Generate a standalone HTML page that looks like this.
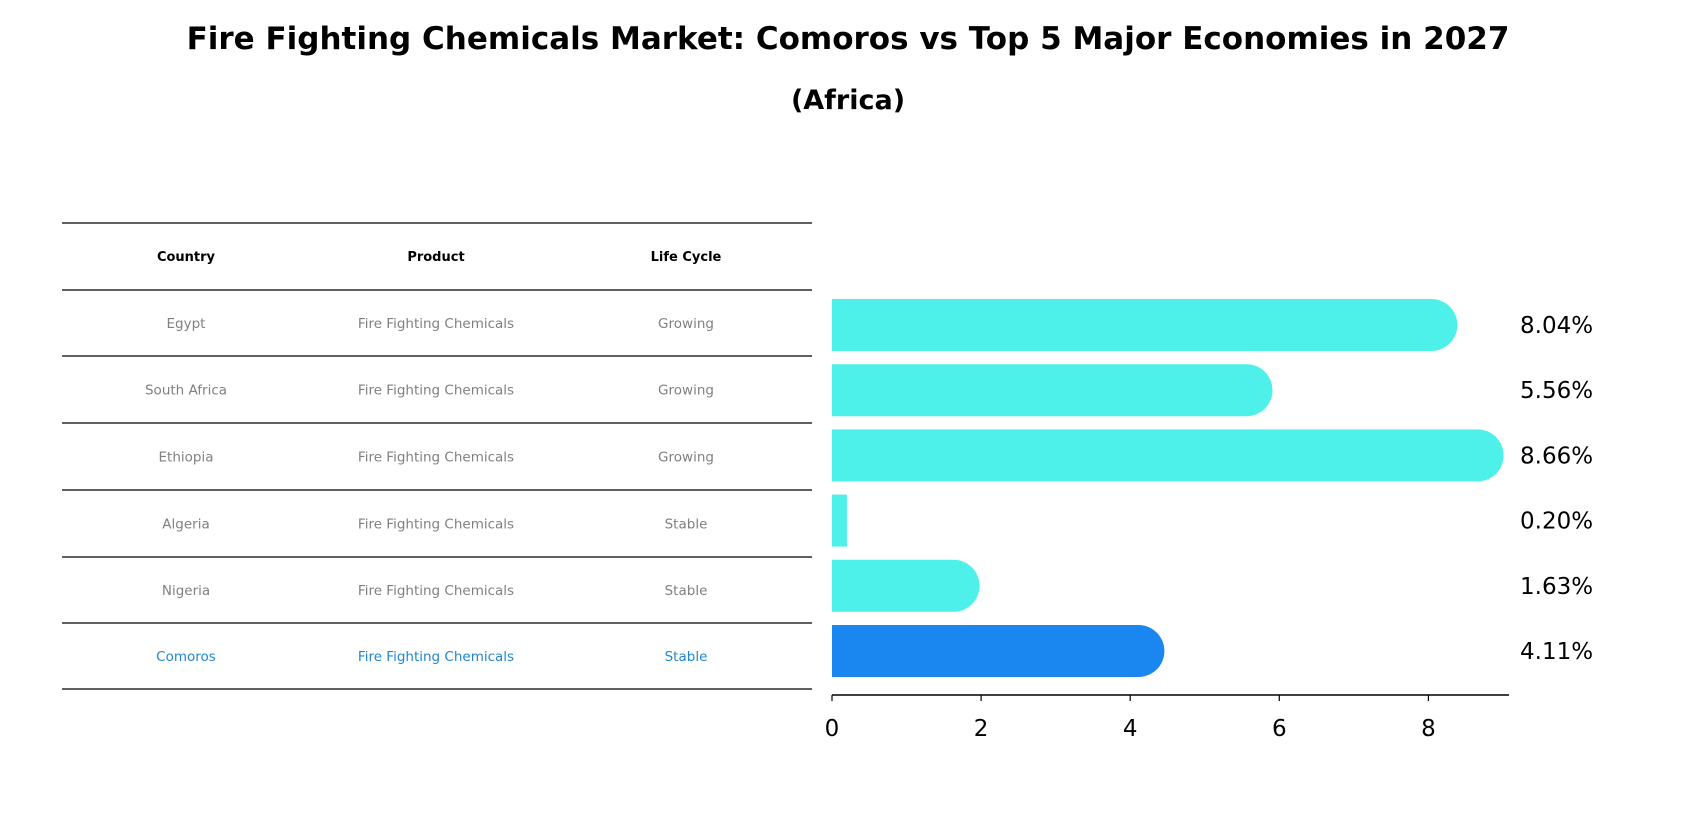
<!DOCTYPE html>
<html><head><meta charset="utf-8"><style>
body{margin:0;background:#fff;}
svg text{font-family:"DejaVu Sans","Liberation Sans",sans-serif;}
</style></head><body>
<svg width="1697" height="823" xmlns="http://www.w3.org/2000/svg">
<text x="848" y="49" text-anchor="middle" font-size="31" font-weight="bold">Fire Fighting Chemicals Market: Comoros vs Top 5 Major Economies in 2027</text>
<text x="848" y="109" text-anchor="middle" font-size="27" font-weight="bold">(Africa)</text>
<g id="table"></g>
<g id="bars"></g>
</svg>
<script>
const countries=["Egypt","South Africa","Ethiopia","Algeria","Nigeria","Comoros"];
const products=["Fire Fighting Chemicals","Fire Fighting Chemicals","Fire Fighting Chemicals","Fire Fighting Chemicals","Fire Fighting Chemicals","Fire Fighting Chemicals"];
const lifeCycles=["Growing","Growing","Growing","Stable","Stable","Stable"];
const values=[8.04,5.56,8.66,0.20,1.63,4.11];
const ticks=[0,2,4,6,8];
const NS="http://www.w3.org/2000/svg";
function mk(tag,attrs,parent,txt){const e=document.createElementNS(NS,tag);for(const k in attrs)e.setAttribute(k,attrs[k]);if(txt!==undefined)e.textContent=txt;parent.appendChild(e);return e;}
const tbl=document.getElementById('table');
const lineYs=[223,290,356,423,490,557,623,689];
lineYs.forEach(y=>{const l=mk('line',{x1:62,x2:812,y1:y,y2:y,stroke:'#000','stroke-width':1.2},tbl);

});
const colX=[186,436,686];
["Country","Product","Life Cycle"].forEach((h,i)=>{const t=mk('text',{x:colX[i],y:261,'text-anchor':'middle','font-size':13,'font-weight':'bold'},tbl,h);

});
countries.forEach((c,r)=>{const y=(lineYs[r+1]+lineYs[r+2])/2+5;const col=c==="Comoros"?"#1f87d0":"#808080";
[c,products[r],lifeCycles[r]].forEach((v,i)=>{const t=mk('text',{x:colX[i],y:y,'text-anchor':'middle','font-size':13.5,fill:col},tbl,v);

});});
const bars=document.getElementById('bars');
const x0=832,unit=74.55;
const xs=v=>x0+v*unit;
const y0=325,step=65.2,bh=52;
values.forEach((v,i)=>{const cy=y0+i*step;const col=countries[i]==="Comoros"?"#1a86f0":"#4ef0ea";
const w=xs(v)-x0;
const r=v>0.5?bh/2:0;
const p=mk('path',{d:`M${x0},${cy-bh/2} H${x0+w} `+(r?`A${r},${r} 0 0 1 ${x0+w},${cy+bh/2}`:`V${cy+bh/2}`)+` H${x0} Z`,fill:col},bars);


const t=mk('text',{x:1520,y:cy+8,'font-size':23},bars,v.toFixed(2)+'%');

});
const ax=mk('line',{x1:x0,x2:1509,y1:695,y2:695,stroke:'#000','stroke-width':1.5},bars);


ticks.forEach(t=>{const l=mk('line',{x1:xs(t),x2:xs(t),y1:695,y2:701,stroke:'#000','stroke-width':1.2},bars);


const tx=mk('text',{x:xs(t),y:736,'text-anchor':'middle','font-size':23},bars,String(t));

});
</script>
</body></html>
